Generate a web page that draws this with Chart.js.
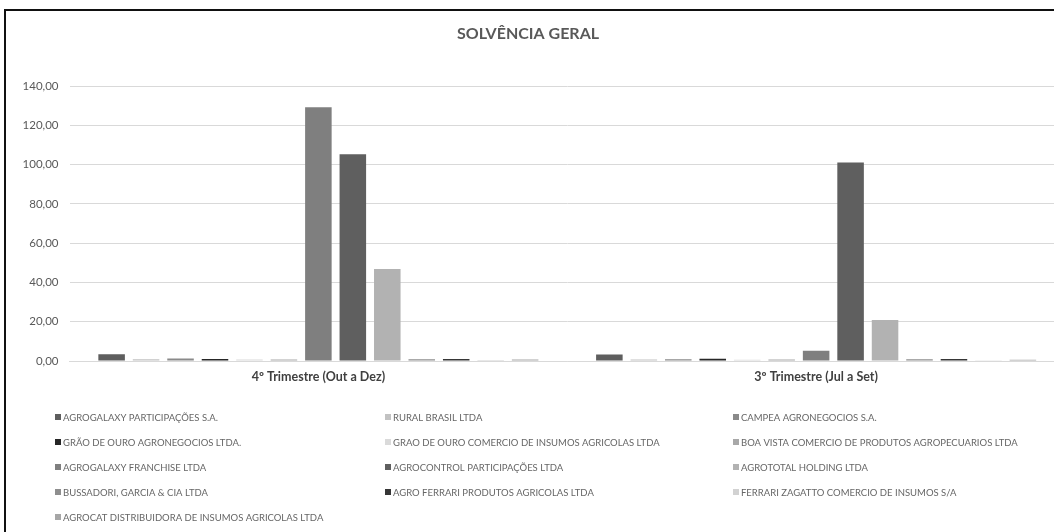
<!DOCTYPE html>
<html>
<head>
<meta charset="utf-8">
<script src="https://cdn.jsdelivr.net/npm/chart.js@4/dist/chart.umd.min.js"></script>
<style>
  html, body { margin: 0; padding: 0; background: #fff; overflow: hidden; width: 1054px; height: 532px; }
  #frame { position: absolute; left: 4px; top: 9px; width: 1100px; height: 600px; border-left: 2px solid #111; border-top: 2px solid #111; box-sizing: border-box; }
  #wrap { position: absolute; left: -9px; top: 0; width: 1074px; height: 532px; }
</style>
</head>
<body>
<div id="frame"></div>
<div id="wrap"><canvas id="c" width="1074" height="532"></canvas></div>
<script>
const chartTitle = 'SOLVÊNCIA GERAL';
const categories = ['4º Trimestre (Out a Dez)', '3º Trimestre (Jul a Set)'];
const seriesNames = [
  'AGROGALAXY PARTICIPAÇÕES S.A.',
  'RURAL BRASIL LTDA',
  'CAMPEA AGRONEGOCIOS S.A.',
  'GRÃO DE OURO AGRONEGOCIOS LTDA.',
  'GRAO DE OURO COMERCIO DE INSUMOS AGRICOLAS LTDA',
  'BOA VISTA COMERCIO DE PRODUTOS AGROPECUARIOS LTDA',
  'AGROGALAXY FRANCHISE LTDA',
  'AGROCONTROL PARTICIPAÇÕES LTDA',
  'AGROTOTAL HOLDING LTDA',
  'BUSSADORI, GARCIA & CIA LTDA',
  'AGRO FERRARI PRODUTOS AGRICOLAS LTDA',
  'FERRARI ZAGATTO COMERCIO DE INSUMOS S/A',
  'AGROCAT DISTRIBUIDORA DE INSUMOS AGRICOLAS LTDA'
];
const q4Values = [3.5, 0.9, 1.3, 1.0, 0.8, 0.8, 129.2, 105.3, 46.9, 0.9, 1.0, 0.5, 0.8];
const q3Values = [3.3, 0.8, 0.9, 1.1, 0.7, 0.8, 5.2, 101.0, 20.9, 0.9, 1.0, 0.4, 0.7];
const yTicks = [0, 20, 40, 60, 80, 100, 120, 140];

const seriesColors = ['#5e5e5e', '#c2c2c2', '#8a8a8a', '#262626', '#dadada', '#a8a8a8',
  '#7f7f7f', '#5f5f5f', '#b2b2b2', '#8e8e8e', '#363636', '#d2d2d2', '#a6a6a6'];

const datasets = seriesNames.map((name, i) => ({
  label: name,
  data: [q4Values[i], q3Values[i]],
  backgroundColor: seriesColors[i],
  borderWidth: 0,
  categoryPercentage: 0.9,
  barPercentage: 0.77
}));

const FONT = 'Lato, "Open Sans", sans-serif';

const legendPlugin = {
  id: 'gridLegend',
  afterDraw(chart) {
    const ctx = chart.ctx;
    const colX = [64, 394, 742];
    const rowY = [417, 442, 467, 492, 517];
    ctx.save();
    ctx.font = '9.5px ' + FONT;
    ctx.textBaseline = 'middle';
    chart.data.datasets.forEach((ds, i) => {
      const col = i % 3, row = Math.floor(i / 3);
      const x = colX[col], y = rowY[row];
      ctx.fillStyle = ds.backgroundColor;
      ctx.fillRect(x, y - 3, 6, 6);
      ctx.fillStyle = '#666666';
      ctx.fillText(ds.label, x + 8, y + 0.5);
    });
    ctx.restore();
  }
};

new Chart(document.getElementById('c'), {
  type: 'bar',
  data: { labels: categories, datasets },
  options: {
    responsive: false,
    animation: false,
    layout: { padding: { left: 0, right: 0, top: 0, bottom: 141 } },
    plugins: {
      legend: { display: false },
      tooltip: { enabled: false },
      title: {
        display: true,
        text: chartTitle,
        color: '#595959',
        font: { family: FONT, size: 16, weight: 'bold' },
        padding: { top: 24, bottom: 42.8 }
      }
    },
    scales: {
      x: {
        grid: { display: false, drawTicks: false },
        border: { display: true, color: '#d9d9d9', width: 1 },
        ticks: { color: '#404040', font: { family: FONT, size: 12.5, weight: 'bold' }, padding: 8 },
        afterFit: s => { s.height = 30; }
      },
      y: {
        min: 0,
        max: 140,
        afterBuildTicks: s => { s.ticks = yTicks.map(v => ({ value: v })); },
        grid: { color: '#d9d9d9', lineWidth: 1, drawTicks: false },
        border: { display: false },
        ticks: {
          color: '#595959',
          font: { family: FONT, size: 11.5 },
          padding: 11,
          callback: v => Number(v).toFixed(2).replace('.', ',')
        },
        afterFit: s => { s.width = 78.5; }
      }
    }
  },
  plugins: [legendPlugin]
});
</script>
</body>
</html>
